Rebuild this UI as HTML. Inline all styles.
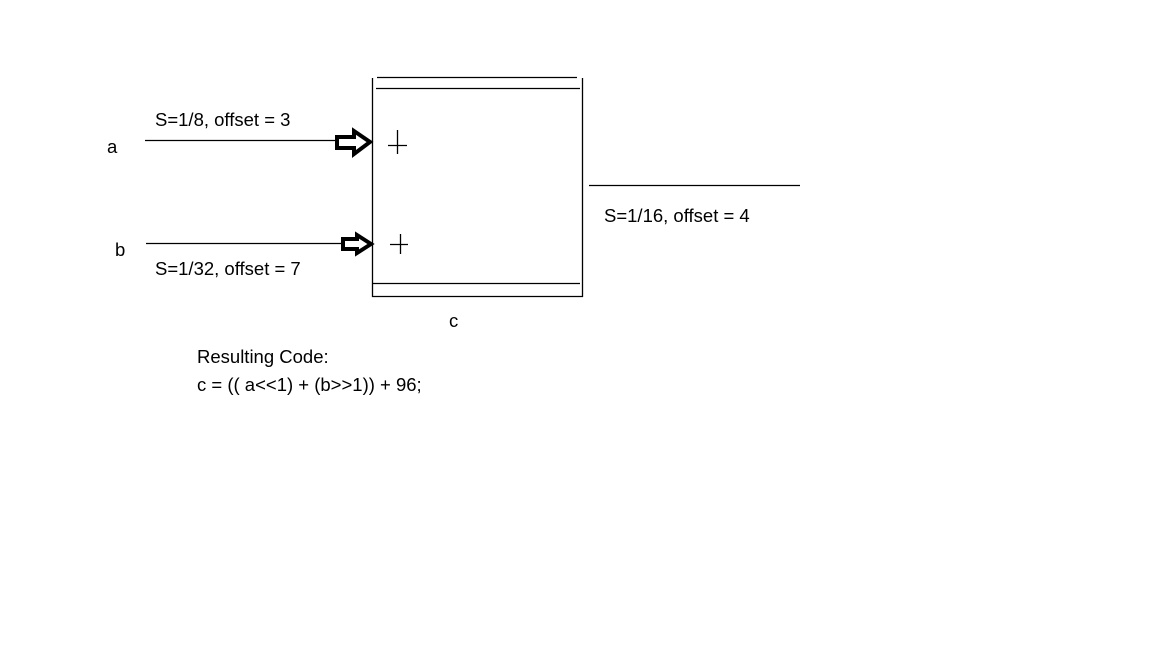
<!DOCTYPE html>
<html><head><style>
body{margin:0;width:1152px;height:648px;background:#fff;position:relative;overflow:hidden;font-family:"Liberation Sans",sans-serif;color:#000}
.t{position:absolute;font-size:18.5px;white-space:nowrap;line-height:20px}
</style></head><body>
<svg width="1152" height="648" style="position:absolute;left:0;top:0">
<g stroke="#000" stroke-width="1.3" fill="none">
<line x1="372.5" y1="78" x2="372.5" y2="297"/>
<line x1="582.5" y1="78" x2="582.5" y2="297"/>
<line x1="372" y1="296.5" x2="583" y2="296.5"/>
<line x1="377" y1="77.5" x2="577" y2="77.5"/>
<line x1="376" y1="88.5" x2="580" y2="88.5"/>
<line x1="373" y1="283.5" x2="580" y2="283.5"/>
<line x1="145" y1="140.5" x2="336" y2="140.5"/>
<line x1="146" y1="243.5" x2="342" y2="243.5"/>
<line x1="589" y1="185.5" x2="800" y2="185.5"/>
<line x1="388" y1="145.5" x2="407" y2="145.5"/>
<line x1="397.5" y1="130" x2="397.5" y2="154"/>
<line x1="390" y1="244.5" x2="408" y2="244.5"/>
<line x1="400.5" y1="234" x2="400.5" y2="254"/>
</g>
<g stroke="#000" stroke-width="4" fill="#fff" stroke-linejoin="miter">
<path d="M337 137 L354 137 L354 131 L370 142 L354 154 L354 148 L337 148 Z"/>
<path d="M343 239 L357 239 L357 235 L371 244 L357 253 L357 249 L343 249 Z"/>
</g>
</svg>
<div class="t" style="left:155px;top:110px">S=1/8, offset = 3</div>
<div class="t" style="left:107px;top:137px">a</div>
<div class="t" style="left:115px;top:240px">b</div>
<div class="t" style="left:155px;top:259px">S=1/32, offset = 7</div>
<div class="t" style="left:604px;top:206px">S=1/16, offset = 4</div>
<div class="t" style="left:449px;top:311px">c</div>
<div class="t" style="left:197px;top:347px">Resulting Code:</div>
<div class="t" style="left:197px;top:375px">c = (( a&lt;&lt;1) + (b&gt;&gt;1)) + 96;</div>
</body></html>
